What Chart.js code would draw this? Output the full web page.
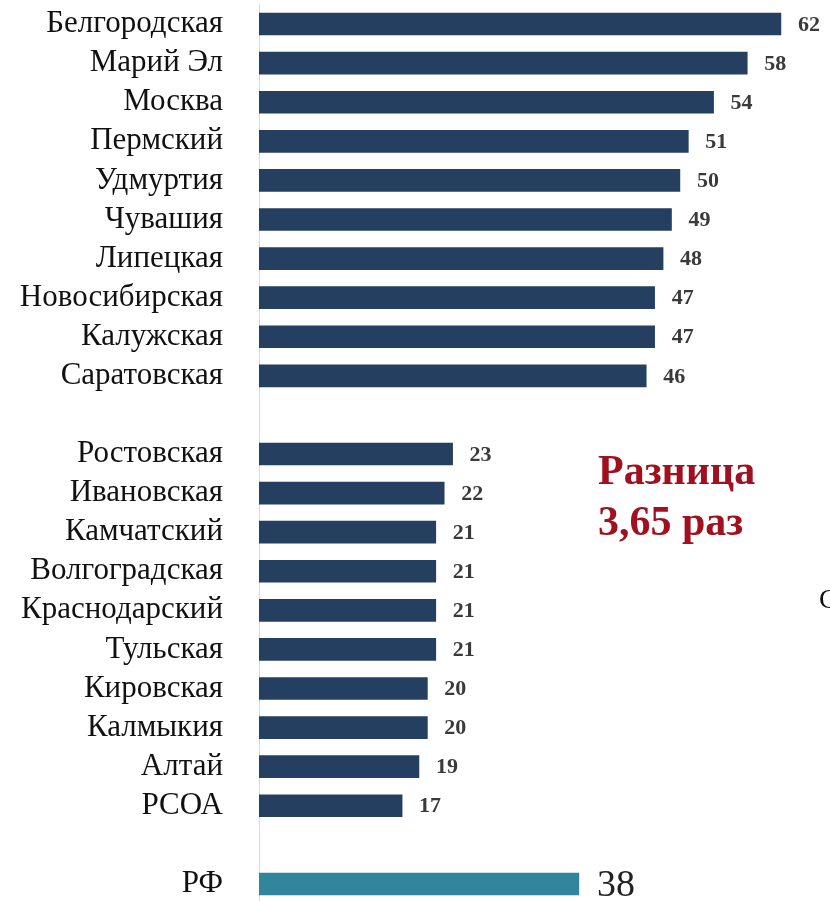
<!DOCTYPE html>
<html lang="ru">
<head>
<meta charset="utf-8">
<script src="https://cdn.jsdelivr.net/npm/chart.js@4.4.1/dist/chart.umd.min.js"></script>
<style>
  html, body { margin: 0; padding: 0; background: #fff; overflow: hidden; }
  canvas { display: block; }
</style>
</head>
<body>
<canvas id="chart" width="830" height="906"></canvas>
<script>
// regions, with empty rows separating the top, bottom and national groups
const regions = [
  'Белгородская', 'Марий Эл', 'Москва', 'Пермский', 'Удмуртия',
  'Чувашия', 'Липецкая', 'Новосибирская', 'Калужская', 'Саратовская',
  '',
  'Ростовская', 'Ивановская', 'Камчатский', 'Волгоградская', 'Краснодарский',
  'Тульская', 'Кировская', 'Калмыкия', 'Алтай', 'РСОА',
  '',
  'РФ'
];
const values = [
  62, 58, 54, 51, 50, 49, 48, 47, 47, 46,
  null,
  23, 22, 21, 21, 21, 21, 20, 20, 19, 17,
  null,
  38
];
const totalLabel = 'РФ';
const noteLines = ['Разница', '3,65 раз'];

const SERIF = "'Liberation Serif', 'Times New Roman', serif";
const COLORS = {
  bar: '#243F60',
  total: '#31859C',
  axis: '#D9D9D9',
  label: '#111111',
  value: '#3A3A3A',
  note: '#A0101E'
};

const barColors = regions.map(r => r === totalLabel ? COLORS.total : COLORS.bar);

// numbers at the end of each bar
const valueLabels = {
  id: 'valueLabels',
  afterDatasetsDraw(chart) {
    const ctx = chart.ctx;
    const meta = chart.getDatasetMeta(0);
    ctx.save();
    ctx.textBaseline = 'middle';
    ctx.textAlign = 'left';
    meta.data.forEach((bar, i) => {
      const v = values[i];
      if (v == null) return;
      if (regions[i] === totalLabel) {
        ctx.font = `38px ${SERIF}`;
        ctx.fillStyle = '#222222';
        ctx.fillText(String(v), bar.x + 18, bar.y + 2);
      } else {
        ctx.font = `bold 22px ${SERIF}`;
        ctx.fillStyle = COLORS.value;
        ctx.fillText(String(v), bar.x + 17, bar.y + 1);
      }
    });
    ctx.restore();
  }
};

// the red note and the stray caption at the right edge
const notes = {
  id: 'notes',
  afterDraw(chart) {
    const ctx = chart.ctx;
    ctx.save();
    ctx.textAlign = 'left';
    ctx.textBaseline = 'alphabetic';
    ctx.fillStyle = COLORS.note;
    ctx.font = `bold 42px ${SERIF}`;
    ctx.fillText(noteLines[0], 598, 484);
    ctx.fillText(noteLines[1], 598, 535);
    ctx.fillStyle = '#111111';
    ctx.font = `28px ${SERIF}`;
    ctx.fillText('С', 819, 608);
    ctx.restore();
  }
};

new Chart(document.getElementById('chart'), {
  type: 'bar',
  data: {
    labels: regions,
    datasets: [{
      data: values,
      backgroundColor: barColors,
      borderWidth: 0,
      barThickness: 22
    }]
  },
  options: {
    indexAxis: 'y',
    responsive: false,
    animation: false,
    layout: { padding: { top: 4.5, bottom: 2.5, left: 0, right: 7 } },
    plugins: {
      legend: { display: false },
      tooltip: { enabled: false }
    },
    scales: {
      x: {
        display: false,
        min: 0,
        max: 67
      },
      y: {
        afterFit(scale) {
          scale.width = 259;
          scale.paddingTop = 0;
          scale.paddingBottom = 0;
        },
        grid: { display: false },
        border: { display: true, color: COLORS.axis, width: 1 },
        ticks: {
          color: COLORS.label,
          padding: 28,
          autoSkip: false,
          font: { family: SERIF, size: 31 }
        }
      }
    }
  },
  plugins: [valueLabels, notes]
});
</script>
</body>
</html>
